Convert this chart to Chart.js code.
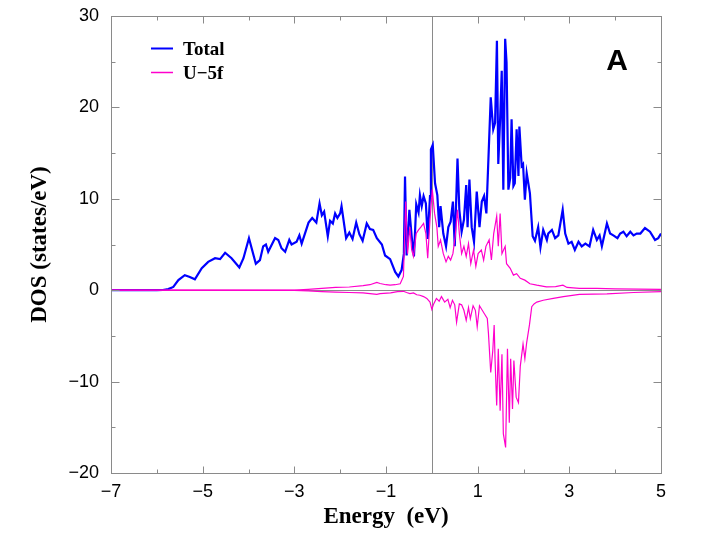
<!DOCTYPE html>
<html>
<head>
<meta charset="utf-8">
<script src="https://cdn.jsdelivr.net/npm/chart.js@4.4.1/dist/chart.umd.min.js"></script>
<style>
html,body{margin:0;padding:0;background:#fff;}
canvas{display:block;}
</style>
</head>
<body>
<canvas id="c" width="720" height="540"></canvas>
<script>
// ---- data ----
const totalE = [-7,-6.0,-5.87,-5.75,-5.64,-5.53,-5.39,-5.28,-5.17,-5.02,-4.88,-4.73,-4.62,-4.51,-4.37,-4.2,-4.11,-3.99,-3.84,-3.75,-3.68,-3.62,-3.57,-3.42,-3.35,-3.28,-3.2,-3.11,-3.06,-2.95,-2.89,-2.84,-2.69,-2.61,-2.52,-2.45,-2.4,-2.35,-2.27,-2.22,-2.16,-2.11,-2.06,-2.0,-1.97,-1.87,-1.8,-1.73,-1.65,-1.58,-1.51,-1.42,-1.35,-1.28,-1.2,-1.09,-1.02,-0.91,-0.8,-0.73,-0.66,-0.61,-0.585,-0.55,-0.49,-0.44,-0.39,-0.34,-0.29,-0.26,-0.22,-0.18,-0.13,-0.09,-0.04,-0.02,0.02,0.07,0.12,0.16,0.19,0.25,0.31,0.36,0.41,0.46,0.5,0.56,0.6,0.65,0.7,0.75,0.78,0.82,0.87,0.92,0.98,1.04,1.09,1.14,1.19,1.285,1.34,1.38,1.42,1.45,1.49,1.525,1.56,1.6,1.63,1.67,1.71,1.74,1.78,1.81,1.85,1.89,1.91,1.96,1.99,2.03,2.07,2.14,2.2,2.25,2.32,2.37,2.43,2.51,2.54,2.62,2.69,2.76,2.855,2.91,2.98,3.05,3.12,3.2,3.27,3.35,3.44,3.52,3.6,3.66,3.71,3.82,3.89,3.96,4.05,4.11,4.18,4.25,4.33,4.4,4.47,4.55,4.65,4.76,4.87,4.94,5.0];
const totalDOS = [0,0,0.02,0.12,0.36,1.1,1.65,1.45,1.2,2.4,3.1,3.5,3.4,4.1,3.5,2.5,3.5,5.7,2.9,3.3,4.8,5.0,4.2,5.7,5.5,4.6,4.2,5.5,5.0,5.3,6.0,5.1,7.4,7.9,7.4,9.5,8.2,8.6,5.9,7.6,7.3,8.4,7.9,8.4,9.2,5.7,6.3,5.6,7.4,6.1,5.4,7.3,6.7,6.6,5.7,5.0,3.8,3.4,2.0,1.5,2.2,4.0,12.45,3.8,8.8,5.9,3.7,9.4,8.5,10.4,9.2,10.3,9.5,5.6,10.3,15.4,15.9,11.7,10.4,6.9,9.2,6.2,4.8,6.9,7.5,9.7,4.8,14.4,8.8,6.4,7.7,11.5,6.9,12.1,6.9,5.3,10.8,6.9,9.7,10.3,8.4,21.1,17.6,18.3,27.3,13.8,18.7,24.0,11.0,27.5,24.9,11.0,12.3,18.7,11.4,11.7,17.6,12.5,17.9,13.6,13.8,9.9,12.8,10.6,5.9,5.4,6.9,4.7,6.6,5.5,6.2,6.6,5.7,6.0,8.8,6.2,5.1,5.3,4.4,5.3,4.8,5.1,4.8,6.6,5.5,6.0,4.8,7.3,6.2,6.0,5.7,6.2,6.4,5.9,6.4,6.0,6.2,6.2,6.8,6.4,5.5,5.7,6.2];

const fUpE = [-7,-3.0,-2.7,-2.4,-2.1,-1.8,-1.5,-1.35,-1.2,-1.13,-1.0,-0.91,-0.8,-0.69,-0.62,-0.57,-0.53,-0.48,-0.44,-0.4,-0.34,-0.29,-0.24,-0.18,-0.13,-0.09,-0.04,0.01,0.06,0.11,0.14,0.19,0.25,0.31,0.36,0.41,0.46,0.51,0.56,0.6,0.65,0.7,0.75,0.8,0.85,0.91,0.96,1.01,1.08,1.13,1.18,1.25,1.3,1.35,1.415,1.45,1.49,1.53,1.6,1.63,1.71,1.78,1.85,1.93,2.03,2.14,2.29,2.5,2.7,2.86,2.95,3.22,3.6,4.0,4.5,5.0];
const fUpDOS = [0,0.02,0.1,0.2,0.3,0.35,0.5,0.6,0.85,0.73,0.6,0.55,0.6,0.7,1.5,9.7,4.0,6.9,4.4,3.7,6.2,6.6,6.9,7.3,6.2,3.5,7.7,11.0,8.4,6.9,4.8,5.5,4.0,3.1,3.7,3.3,4.0,5.9,8.8,6.2,4.0,4.8,3.7,5.1,2.9,4.4,2.6,4.0,4.4,3.3,4.8,5.5,3.3,6.2,8.1,4.8,8.4,4.0,4.8,2.9,2.4,1.65,1.8,1.3,1.1,0.7,0.55,0.37,0.4,0.55,0.3,0.2,0.2,0.15,0.12,0.1];

const fDnE = [-7,-3.0,-2.7,-2.4,-2.1,-1.8,-1.5,-1.2,-1.13,-0.9,-0.75,-0.62,-0.55,-0.48,-0.4,-0.33,-0.26,-0.18,-0.11,-0.04,0.0,0.04,0.1,0.16,0.21,0.28,0.35,0.4,0.45,0.5,0.54,0.6,0.65,0.7,0.75,0.8,0.84,0.9,0.95,0.99,1.04,1.1,1.15,1.21,1.235,1.285,1.33,1.36,1.38,1.415,1.45,1.49,1.53,1.56,1.61,1.65,1.69,1.72,1.76,1.79,1.84,1.89,1.93,1.99,2.03,2.07,2.13,2.18,2.23,2.29,2.43,2.65,2.87,3.22,3.82,4.4,5.0];
const fDnDOS = [0,-0.02,-0.08,-0.15,-0.2,-0.25,-0.3,-0.45,-0.37,-0.3,-0.15,-0.12,-0.25,-0.37,-0.3,-0.5,-0.55,-0.7,-0.9,-1.3,-2.1,-1.5,-0.9,-1.2,-0.7,-1.3,-1.0,-1.9,-1.1,-1.6,-3.5,-1.5,-1.6,-2.2,-3.3,-1.9,-3.1,-1.7,-2.2,-4.0,-1.7,-2.2,-2.6,-3.1,-4.7,-9.0,-6.6,-3.8,-7.7,-12.6,-6.4,-13.2,-7.0,-15.7,-17.2,-6.4,-14.5,-7.5,-13.0,-7.7,-11.7,-12.3,-8.3,-5.9,-7.5,-5.7,-3.8,-1.8,-1.5,-1.3,-1.1,-0.9,-0.7,-0.45,-0.4,-0.25,-0.15];

const xTicks = [-7,-5,-3,-1,1,3,5];
const xTickLabels = ['\u22127','\u22125','\u22123','\u22121','1','3','5'];
const xMinor = [-6,-4,-2,0,2,4];
const yTicks = [-20,-10,0,10,20,30];
const yTickLabels = ['\u221220','\u221210','0','10','20','30'];
const yMinor = [-15,-5,5,15,25];
const seriesNames = ['Total','U\u22125f'];
const panelLabel = 'A';

const BLUE = '#0000ff';
const PINK = '#ff00cc';
const GRAY = '#8a8a8a';

const pts = (xs, ys) => xs.map((x, i) => ({x: x, y: ys[i]}));

const decor = {
  id: 'decor',
  beforeDatasetsDraw(chart) {
    const {ctx, chartArea: a, scales: {x, y}} = chart;
    ctx.save();
    ctx.strokeStyle = GRAY;
    ctx.lineWidth = 1;
    const x0 = Math.round(x.getPixelForValue(0)) + 0.5;
    const y0 = Math.round(y.getPixelForValue(0)) + 0.5;
    ctx.beginPath();
    ctx.moveTo(x0, a.top); ctx.lineTo(x0, a.bottom);
    ctx.moveTo(a.left, y0); ctx.lineTo(a.right, y0);
    ctx.stroke();
    ctx.restore();
  },
  afterDatasetsDraw(chart) {
    const {ctx, chartArea: a, scales: {x, y}} = chart;
    ctx.save();
    ctx.strokeStyle = GRAY;
    ctx.lineWidth = 1;
    const L = Math.round(a.left) + 0.5, R = Math.round(a.right) + 0.5;
    const T = Math.round(a.top) + 0.5, B = Math.round(a.bottom) + 0.5;
    ctx.strokeRect(L, T, R - L, B - T);
    ctx.beginPath();
    const xt = (vals, len) => vals.forEach(v => {
      const p = Math.round(x.getPixelForValue(v)) + 0.5;
      ctx.moveTo(p, B); ctx.lineTo(p, B - len);
      ctx.moveTo(p, T); ctx.lineTo(p, T + len);
    });
    const yt = (vals, len) => vals.forEach(v => {
      const p = Math.round(y.getPixelForValue(v)) + 0.5;
      ctx.moveTo(L, p); ctx.lineTo(L + len, p);
      ctx.moveTo(R, p); ctx.lineTo(R - len, p);
    });
    xt(xTicks, 7); xt(xMinor, 4);
    yt(yTicks, 8); yt(yMinor, 4);
    ctx.stroke();

    // legend
    const ds = chart.data.datasets;
    const items = [{c: ds[2].borderColor, w: 2, t: ds[2].label, y: 48},
                   {c: ds[0].borderColor, w: 1.5, t: ds[0].label, y: 72}];
    ctx.font = "bold 19px 'Liberation Serif'";
    ctx.textBaseline = 'alphabetic';
    ctx.textAlign = 'left';
    items.forEach(it => {
      ctx.strokeStyle = it.c;
      ctx.lineWidth = it.w;
      ctx.beginPath();
      ctx.moveTo(151, it.y + 0.5); ctx.lineTo(173, it.y + 0.5);
      ctx.stroke();
      ctx.fillStyle = '#000';
      ctx.fillText(it.t, 183, it.y + 7);
    });
    ctx.font = "bold 30px 'Liberation Sans'";
    ctx.textAlign = 'center';
    ctx.fillText(panelLabel, 617, 70);
    ctx.restore();
  }
};

new Chart(document.getElementById('c'), {
  type: 'scatter',
  data: {
    datasets: [
      {label: seriesNames[1], data: pts(fUpE, fUpDOS), showLine: true, borderColor: PINK, borderWidth: 1.2, pointRadius: 0, tension: 0},
      {label: seriesNames[1] + ' (down)', data: pts(fDnE, fDnDOS), showLine: true, borderColor: PINK, borderWidth: 1.2, pointRadius: 0, tension: 0},
      {label: seriesNames[0], data: pts(totalE, totalDOS), showLine: true, borderColor: BLUE, borderWidth: 2.2, pointRadius: 0, tension: 0}
    ]
  },
  options: {
    responsive: false,
    animation: false,
    devicePixelRatio: 1,
    layout: {padding: {left: 0, right: 59, top: 16, bottom: 0}},
    plugins: {legend: {display: false}, tooltip: {enabled: false}},
    scales: {
      x: {
        type: 'linear', position: 'bottom', min: -7, max: 5,
        afterFit: s => { s.height = 67; s.paddingLeft = 0; s.paddingRight = 0; },
        afterBuildTicks: s => { s.ticks = xTicks.map(v => ({value: v})); },
        grid: {display: false, drawTicks: false},
        border: {display: false},
        ticks: {
          autoSkip: false, maxRotation: 0, padding: 8, color: '#000',
          font: {family: "'Liberation Sans'", size: 18},
          callback: (v, i) => xTickLabels[i]
        },
        title: {display: true, text: 'Energy  (eV)', color: '#000',
          font: {family: "'Liberation Serif'", size: 23, weight: 'bold'},
          padding: {top: 0, bottom: 9}}
      },
      y: {
        type: 'linear', position: 'left', min: -20, max: 30,
        afterFit: s => { s.width = 111; s.paddingTop = 0; s.paddingBottom = 0; },
        afterBuildTicks: s => { s.ticks = yTicks.map(v => ({value: v})); },
        grid: {display: false, drawTicks: false},
        border: {display: false},
        ticks: {
          autoSkip: false, padding: 12, color: '#000',
          font: {family: "'Liberation Sans'", size: 18},
          callback: (v, i) => yTickLabels[i]
        },
        title: {display: true, text: 'DOS (states/eV)', color: '#000',
          font: {family: "'Liberation Serif'", size: 23, weight: 'bold'},
          padding: {top: 26, bottom: 0}}
      }
    }
  },
  plugins: [decor]
});
</script>
</body>
</html>
